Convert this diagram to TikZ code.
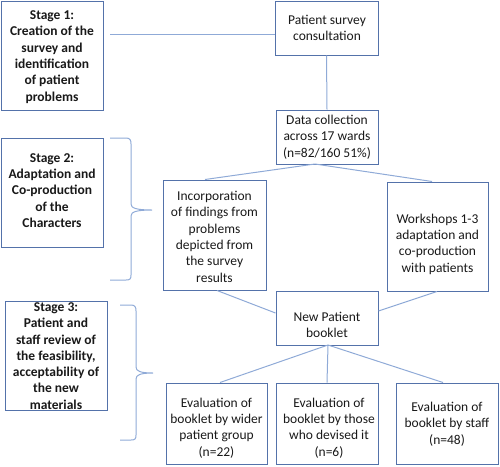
\documentclass[tikz,border=0pt]{standalone}
\usepackage{fontspec}
\setmainfont{Carlito}
\definecolor{boxc}{RGB}{84,114,170}
\definecolor{linec}{RGB}{143,170,215}
\definecolor{txtc}{RGB}{25,25,25}
\begin{document}
\begin{tikzpicture}[x=1pt,y=-1pt,
  box/.style={draw=boxc,line width=1pt,fill=white,inner sep=0pt},
  txt/.style={align=center,inner sep=0pt,text=txtc,font=\fontsize{13.5}{16.3}\selectfont},
  stxt/.style={txt,font=\fontsize{13.5}{16.3}\selectfont\bfseries},
  conn/.style={draw=linec,line width=1pt},
  brc/.style={draw=linec,line width=1pt}]
\useasboundingbox (0,0) rectangle (500,466);
% boxes
\node[box,minimum width=102pt,minimum height=109pt] (s1) at (52,55.5) {};
\node[stxt] at (52,57) {Stage 1:\\Creation of the\\survey and\\identification\\of patient\\problems};
\node[box,minimum width=102pt,minimum height=109pt] (s2) at (52,192.5) {};
\node[stxt] at (52,190.5) {Stage 2:\\Adaptation and\\Co-production\\of the\\Characters};
\node[box,minimum width=102pt,minimum height=109pt] (s3) at (56,355.5) {};
\node[stxt] at (56,356) {Stage 3:\\Patient and\\staff review of\\the feasibility,\\acceptability of\\the new\\materials};
\node[box,minimum width=103pt,minimum height=54pt] (psc) at (326.5,28) {};
\node[txt] at (327,28) {Patient survey\\consultation};
\node[box,minimum width=102pt,minimum height=54pt] (dc) at (327,137) {};
\node[txt] at (327,137) {Data collection\\across 17 wards\\(n=82/160 51\%)};
\node[box,minimum width=103pt,minimum height=110pt] (inc) at (214.5,235) {};
\node[txt] at (214.5,236.7) {Incorporation\\of findings from\\problems\\depicted from\\the survey\\results};
\node[box,minimum width=101pt,minimum height=109pt] (ws) at (437.5,236.5) {};
\node[txt] at (437.5,244) {Workshops 1-3\\adaptation and\\co-production\\with patients};
\node[box,minimum width=102pt,minimum height=54pt] (npb) at (327,318) {};
\node[txt] at (327,325) {New Patient\\booklet};
\node[box,minimum width=101pt,minimum height=81pt] (e1) at (216.5,423.5) {};
\node[txt] at (216.5,428) {Evaluation of\\booklet by wider\\patient group\\(n=22)};
\node[box,minimum width=102pt,minimum height=81pt] (e2) at (327,423.5) {};
\node[txt] at (329,428) {Evaluation of\\booklet by those\\who devised it\\(n=6)};
\node[box,minimum width=102pt,minimum height=81pt] (e3) at (447,423.5) {};
\node[txt] at (447,424) {Evaluation of\\booklet by staff\\(n=48)};
% connectors
\coordinate (l1) at (110,34);
\draw[conn] (l1) -- (l1 -| psc.west);
\draw[conn] (psc.south) -- (dc.north);
\coordinate (dcb) at (315,164);
\draw[conn] (dcb) -- ([xshift=-9.5pt]inc.north);
\draw[conn] (dcb) -- ([xshift=-5.5pt]ws.north);
\draw[conn] ([xshift=2.5pt]inc.south) -- ([yshift=5pt]npb.west);
\draw[conn] ([xshift=-0.5pt]ws.south) -- ([yshift=7pt]npb.east);
\coordinate (npbb) at (328,345);
\draw[conn] (npbb) -- ([xshift=3.5pt]e1.north);
\draw[conn] (npbb) -- (e2.north);
\draw[conn] (npbb) -- ([xshift=-4pt]e3.north);
% braces
\draw[brc] (110,138) -- (126,138) .. controls (130,138) and (131,140) .. (131,144)
  -- (131,204) .. controls (131,208) and (136,210) .. (152,210)
  .. controls (136,210) and (131,212) .. (131,216)
  -- (131,275) .. controls (131,279) and (130,280) .. (126,280) -- (110,280);
\draw[brc] (120,305) -- (131,305) .. controls (135,305) and (136,307) .. (136,311)
  -- (136,367) .. controls (136,371) and (140,373) .. (153,373)
  .. controls (140,373) and (136,375) .. (136,379)
  -- (136,435) .. controls (136,439) and (135,440) .. (131,440) -- (120,440);
\end{tikzpicture}
\end{document}
